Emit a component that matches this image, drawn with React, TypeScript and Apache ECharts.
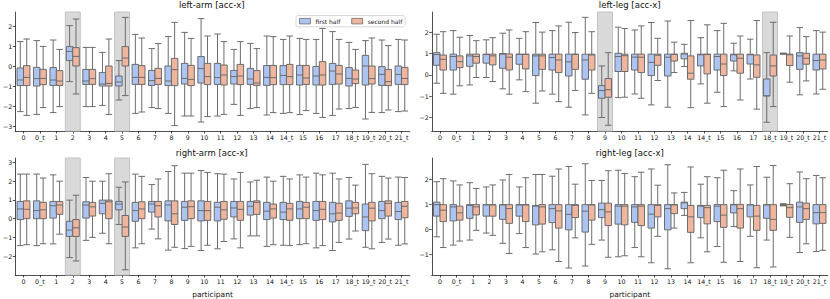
import React, { useEffect, useRef } from 'react';
import * as echarts from 'echarts';

const participants = ['0', '0_t', '1', '2', '3', '4', '5', '6', '7', '8', '9', '10', '11', '12', '13', '14', '14_t', '15', '16', '17', '18_t', '19_t', '20_t', '21_t'];

// [low whisker, Q1, median, Q3, high whisker]
const leftArmFirst = [
  [-2.28, -0.98, -0.70, -0.10, 1.22], [-2.42, -1.00, -0.63, -0.07, 1.27], [-2.33, -0.97, -0.70, -0.08, 1.30],
  [-0.78, 0.27, 0.73, 0.97, 2.02], [-2.03, -0.92, -0.75, -0.17, 0.93], [-1.97, -1.00, -0.90, -0.33, 0.68],
  [-1.70, -1.00, -0.80, -0.50, 0.27], [-2.37, -0.92, -0.57, 0.08, 1.58], [-2.08, -0.97, -0.73, -0.22, 0.87],
  [-2.37, -0.98, -0.75, 0.00, 1.47], [-2.50, -0.90, -0.62, 0.13, 1.68], [-2.80, -0.85, -0.13, 0.47, 2.37],
  [-2.50, -0.92, -0.58, 0.13, 1.60], [-1.92, -0.90, -0.53, -0.22, 0.83], [-2.13, -0.92, -0.65, -0.12, 1.13],
  [-2.45, -0.97, -0.57, 0.02, 1.50], [-2.37, -0.93, -0.47, 0.02, 1.33], [-2.43, -0.95, -0.45, 0.03, 1.38],
  [-2.37, -0.95, -0.50, -0.02, 1.33], [-2.47, -0.92, -0.25, 0.13, 1.72], [-2.13, -1.00, -0.62, -0.08, 1.18],
  [-2.65, -0.95, 0.00, 0.53, 1.27], [-2.33, -0.97, -0.42, -0.03, 1.30], [-2.28, -0.92, -0.42, 0.00, 1.33],
];
const leftArmSecond = [
  [-2.47, -0.98, -0.57, 0.02, 1.35], [-2.08, -0.93, -0.62, -0.17, 0.98], [-2.03, -0.97, -0.75, -0.23, 0.83],
  [-1.40, 0.00, 0.48, 0.92, 2.35], [-2.03, -0.92, -0.63, -0.17, 0.93], [-2.42, -1.00, -0.87, 0.00, 1.35],
  [-1.48, 0.00, 0.40, 0.97, 2.43], [-2.30, -0.92, -0.57, 0.02, 1.40], [-2.13, -0.92, -0.62, -0.12, 1.12],
  [-2.98, -0.98, -0.18, 0.38, 2.18], [-2.50, -0.98, -0.67, 0.03, 1.38], [-2.53, -0.93, -0.53, 0.13, 1.50],
  [-2.42, -0.95, -0.45, 0.05, 1.22], [-2.47, -0.93, -0.50, 0.08, 1.22], [-2.08, -0.97, -0.85, -0.23, 0.87],
  [-2.33, -0.93, -0.58, 0.03, 1.47], [-2.33, -0.93, -0.53, 0.08, 1.50], [-2.23, -0.92, -0.60, 0.03, 1.33],
  [-2.57, -0.95, -0.45, 0.22, 1.88], [-2.15, -0.90, -0.40, 0.03, 1.33], [-2.07, -0.88, -0.65, -0.20, 0.83],
  [-2.32, -0.90, -0.63, 0.00, 1.40], [-2.20, -0.98, -0.78, -0.17, 1.02], [-2.25, -0.93, -0.62, -0.07, 1.30],
];
const leftLegFirst = [
  [-0.39, 0.45, 0.95, 1.04, 1.90], [-0.90, 0.23, 0.86, 0.97, 2.07], [-0.47, 0.40, 0.89, 0.97, 1.84],
  [-0.12, 0.55, 0.95, 0.97, 1.64], [-0.65, 0.31, 0.97, 1.00, 1.95], [-0.23, 0.50, 0.96, 0.97, 1.71],
  [-1.32, -0.03, 0.89, 0.97, 2.45], [-0.90, 0.23, 0.81, 0.97, 2.07], [-1.51, -0.05, 0.61, 0.97, 2.46],
  [-1.87, -0.20, 0.70, 0.97, 2.69], [-1.99, -1.09, -0.73, -0.50, 0.42], [-1.06, 0.16, 0.86, 1.01, 2.23],
  [-0.89, 0.23, 0.83, 0.97, 2.10], [-1.40, -0.03, 0.59, 0.97, 2.45], [-1.51, -0.05, 0.83, 0.97, 2.52],
  [0.39, 0.75, 0.98, 1.01, 1.43], [-0.42, 0.42, 0.94, 0.97, 1.74], [-0.81, 0.23, 0.86, 0.97, 2.07],
  [0.19, 0.65, 0.94, 0.97, 1.48], [-0.19, 0.51, 0.94, 0.97, 1.67], [-2.21, -0.98, -0.98, -0.19, 1.04],
  [0.97, 0.98, 1.00, 1.00, 1.02], [-0.93, 0.26, 0.89, 1.04, 2.21], [-0.89, 0.23, 0.67, 0.97, 2.07],
];
const leftLegSecond = [
  [-0.86, 0.23, 0.73, 0.93, 2.02], [-0.51, 0.34, 0.62, 0.89, 1.76], [-0.12, 0.55, 0.86, 0.97, 1.60],
  [-0.31, 0.47, 0.89, 0.97, 1.74], [-0.90, 0.23, 0.83, 0.98, 2.10], [-0.78, 0.28, 0.96, 0.97, 2.02],
  [-0.75, 0.26, 0.89, 0.97, 2.00], [-1.25, 0.11, 0.70, 0.97, 2.29], [-0.73, 0.26, 0.96, 0.97, 1.98],
  [-0.86, 0.23, 0.93, 0.97, 2.02], [-2.35, -1.04, -0.69, -0.17, 1.04], [-1.04, 0.16, 0.90, 0.97, 2.17],
  [-1.09, 0.11, 0.83, 0.97, 2.29], [-0.26, 0.45, 0.92, 0.97, 1.71], [0.11, 0.65, 0.96, 0.97, 1.53],
  [-1.53, -0.20, 0.08, 0.89, 2.54], [-1.32, 0.05, 0.96, 0.97, 2.34], [-1.48, -0.03, 0.51, 0.97, 2.41],
  [-1.17, 0.08, 0.78, 0.97, 1.82], [-1.60, -0.11, 0.47, 0.93, 2.54], [-1.48, -0.05, 0.42, 0.93, 2.46],
  [-0.34, 0.44, 0.94, 0.97, 1.82], [-0.28, 0.50, 0.78, 1.01, 1.79], [-0.67, 0.28, 0.70, 0.97, 2.00],
];
const rightArmFirst = [
  [-1.44, -0.05, 0.52, 0.92, 2.38], [-1.44, 0.00, 0.43, 0.95, 2.38], [-1.35, 0.03, 0.69, 0.92, 2.34],
  [-2.08, -0.95, -0.61, -0.14, 0.99], [-1.16, 0.03, 0.73, 0.90, 2.20], [-0.78, 0.26, 0.82, 0.99, 2.00],
  [-0.31, 0.47, 0.78, 0.92, 1.68], [-1.56, -0.14, 0.43, 0.87, 2.38], [-0.56, 0.35, 0.78, 0.92, 1.82],
  [-1.68, -0.12, 0.73, 0.95, 2.52], [-1.60, -0.09, 0.61, 0.92, 2.43], [-1.70, -0.12, 0.43, 0.95, 2.57],
  [-1.61, -0.12, 0.61, 0.87, 2.40], [-1.08, 0.09, 0.57, 0.92, 2.12], [-0.92, 0.19, 0.66, 0.92, 1.96],
  [-1.48, -0.05, 0.40, 0.87, 2.22], [-1.42, -0.05, 0.35, 0.87, 2.26], [-1.39, 0.00, 0.52, 0.92, 2.34],
  [-1.56, -0.09, 0.43, 0.92, 2.43], [-1.70, -0.17, 0.26, 0.87, 2.43], [-1.09, 0.12, 0.56, 0.95, 2.20],
  [-1.53, -0.64, 0.09, 0.78, 2.90], [-1.27, 0.00, 0.43, 0.92, 2.26], [-1.42, -0.05, 0.38, 0.87, 2.22],
];
const rightArmSecond = [
  [-1.39, 0.00, 0.50, 0.95, 2.38], [-1.34, 0.00, 0.47, 0.87, 2.17], [-0.83, 0.23, 0.73, 0.92, 2.00],
  [-2.26, -0.95, -0.49, -0.05, 1.25], [-1.00, 0.14, 0.63, 0.87, 2.00], [-1.34, 0.00, 0.90, 0.99, 2.40],
  [-2.73, -0.95, -0.45, 0.17, 1.96], [-1.34, 0.00, 0.52, 0.90, 2.26], [-1.08, 0.09, 0.69, 0.92, 2.12],
  [-1.53, -0.31, 0.26, 0.95, 2.83], [-1.48, 0.00, 0.64, 0.95, 2.43], [-1.42, -0.09, 0.43, 0.92, 2.47],
  [-1.22, -0.03, 0.47, 0.92, 2.38], [-1.56, -0.09, 0.50, 0.92, 2.47], [-0.92, 0.23, 0.87, 0.95, 2.05],
  [-1.39, 0.03, 0.52, 0.78, 2.00], [-1.44, -0.09, 0.52, 0.82, 2.12], [-1.34, 0.00, 0.61, 0.87, 2.22],
  [-1.44, -0.05, 0.50, 0.92, 2.34], [-1.27, -0.09, 0.30, 0.82, 2.12], [-0.66, 0.26, 0.57, 0.87, 1.79],
  [-1.61, -0.12, 0.56, 0.87, 2.40], [-1.09, 0.14, 0.82, 0.95, 2.17], [-1.35, 0.05, 0.66, 0.92, 2.20],
];
const rightLegFirst = [
  [-0.31, 0.52, 0.98, 1.08, 1.90], [-0.64, 0.33, 0.89, 0.98, 1.93], [-0.44, 0.43, 0.95, 0.98, 1.86],
  [-0.16, 0.52, 0.97, 0.98, 1.69], [-0.57, 0.39, 0.97, 0.98, 1.97], [-0.18, 0.52, 0.97, 0.98, 1.69],
  [-1.00, 0.17, 0.92, 0.95, 2.19], [-0.83, 0.26, 0.82, 0.98, 2.12], [-1.56, -0.03, 0.59, 0.98, 2.51],
  [-1.48, -0.12, 0.72, 0.98, 2.62], [-0.44, 0.46, 0.78, 1.04, 1.95], [-1.11, 0.20, 0.92, 0.98, 2.36],
  [-0.74, 0.27, 0.89, 0.98, 2.10], [-1.35, 0.04, 0.60, 0.98, 2.41], [-1.59, -0.03, 0.82, 0.98, 2.58],
  [0.55, 0.82, 1.05, 1.08, 1.47], [-0.35, 0.46, 0.92, 0.95, 1.80], [-0.70, 0.30, 0.92, 0.98, 2.06],
  [0.10, 0.65, 0.97, 0.99, 1.54], [-0.29, 0.49, 0.97, 0.98, 1.77], [-0.44, 0.43, 0.97, 0.98, 2.08],
  [0.93, 0.95, 0.97, 0.98, 1.02], [-0.94, 0.27, 0.89, 1.08, 2.29], [-0.90, 0.21, 0.66, 0.98, 2.15],
];
const rightLegSecond = [
  [-0.74, 0.30, 0.76, 0.98, 2.02], [-0.48, 0.36, 0.65, 0.92, 1.77], [-0.05, 0.57, 0.89, 0.98, 1.63],
  [-0.25, 0.52, 0.97, 0.98, 1.77], [-0.98, 0.23, 0.82, 0.98, 2.19], [-0.74, 0.30, 0.97, 0.98, 2.06],
  [-0.91, 0.20, 0.89, 0.98, 2.19], [-1.30, 0.04, 0.73, 0.98, 2.41], [-0.35, 0.46, 0.95, 0.98, 1.80],
  [-0.61, 0.36, 0.97, 0.98, 1.95], [-1.13, 0.14, 0.69, 1.04, 2.34], [-1.07, 0.17, 0.92, 0.98, 2.23],
  [-1.11, 0.14, 0.92, 0.98, 2.28], [-0.29, 0.49, 0.95, 0.98, 1.76], [0.04, 0.62, 0.97, 0.98, 1.45],
  [-1.35, -0.13, 0.49, 0.95, 2.49], [-0.91, 0.21, 0.86, 0.95, 2.10], [-1.33, 0.07, 0.56, 0.98, 2.36],
  [-1.30, 0.04, 0.82, 0.99, 2.41], [-1.55, -0.05, 0.52, 0.95, 2.51], [-1.52, -0.05, 0.39, 0.98, 2.55],
  [-0.33, 0.47, 0.86, 0.99, 1.82], [-0.59, 0.39, 0.82, 1.04, 2.02], [-0.85, 0.23, 0.66, 0.98, 2.06],
];

const leftArmShaded = ['2', '5'];
const leftLegShaded = ['9', '18_t'];
const rightArmShaded = ['2', '5'];
const rightLegShaded: string[] = [];

const leftArmTicks = [-3, -2, -1, 0, 1, 2];
const leftLegTicks = [-2, -1, 0, 1, 2];
const rightArmTicks = [-2, -1, 0, 1, 2, 3];
const rightLegTicks = [-1, 0, 1, 2];

const seriesNames = ['first half', 'second half'];

const FONT = 'DejaVu Sans';
const BLUE = '#abc4f2';
const SALMON = '#efb59d';
const EDGE = '#6c6c6c';

const panels = [
  { title: 'left-arm [acc-x]', first: leftArmFirst, second: leftArmSecond, shaded: leftArmShaded, ticks: leftArmTicks, yMin: -3.25, yMax: 2.7, left: 13.75, top: 12, height: 119, titleTop: 0.8, xName: '' },
  { title: 'left-leg [acc-x]', first: leftLegFirst, second: leftLegSecond, shaded: leftLegShaded, ticks: leftLegTicks, yMin: -2.62, yMax: 2.94, left: 431.75, top: 12, height: 119, titleTop: 0.8, xName: '' },
  { title: 'right-arm [acc-x]', first: rightArmFirst, second: rightArmSecond, shaded: rightArmShaded, ticks: rightArmTicks, yMin: -3.01, yMax: 3.24, left: 13.75, top: 158, height: 120, titleTop: 148.3, xName: 'participant' },
  { title: 'right-leg [acc-x]', first: rightLegFirst, second: rightLegSecond, shaded: rightLegShaded, ticks: rightLegTicks, yMin: -1.84, yMax: 2.85, left: 431.75, top: 158, height: 120, titleTop: 148.3, xName: 'participant' },
];
const PLOT_W = 396;

const fmt = (v: number) => (v < 0 ? '\u2212' + Math.abs(v) : String(v));

function buildOption() {
  const grid: any[] = [];
  const xAxis: any[] = [];
  const yAxis: any[] = [];
  const series: any[] = [];
  const title: any[] = [];
  panels.forEach((p, i) => {
    grid.push({ left: p.left, top: p.top, width: PLOT_W, height: p.height });
    title.push({
      text: p.title,
      left: p.left + PLOT_W / 2,
      top: p.titleTop,
      padding: 0,
      textAlign: 'center',
      textStyle: { fontFamily: FONT, fontSize: 8.5, fontWeight: 'normal', color: '#111' },
    });
    xAxis.push({
      type: 'category',
      gridIndex: i,
      data: participants,
      boundaryGap: true,
      name: p.xName,
      nameLocation: 'middle',
      nameGap: 15,
      nameTextStyle: { fontFamily: FONT, fontSize: 7.5, color: '#111' },
      axisLine: { show: true, onZero: false, lineStyle: { color: '#222', width: 0.8 } },
      axisTick: { show: true, alignWithLabel: true, length: 2.5, lineStyle: { color: '#222', width: 0.8 } },
      axisLabel: { interval: 0, fontFamily: FONT, fontSize: 6.3, color: '#111', margin: 3.5 },
      splitLine: { show: false },
    });
    yAxis.push({
      type: 'value',
      gridIndex: i,
      min: p.yMin,
      max: p.yMax,
      axisLine: { show: true, onZero: false, lineStyle: { color: '#222', width: 0.8 } },
      axisTick: { show: true, length: 2.5, customValues: p.ticks, lineStyle: { color: '#222', width: 0.8 } },
      axisLabel: { customValues: p.ticks, formatter: (v: number) => fmt(v), fontFamily: FONT, fontSize: 6.3, color: '#111', margin: 3 },
      splitLine: { show: false },
    });
    const yMin = p.yMin;
    const yMax = p.yMax;
    series.push({
      type: 'custom',
      xAxisIndex: i,
      yAxisIndex: i,
      silent: true,
      z: 1,
      data: p.shaded.map((c) => [participants.indexOf(c), 0]),
      encode: { x: 0, y: 1 },
      renderItem: (params: any, api: any) => {
        const idx = api.value(0);
        const t = api.coord([idx, yMax]);
        const b = api.coord([idx, yMin]);
        const w = api.size([1, 0])[0] - 1.5;
        return {
          type: 'rect',
          shape: { x: t[0] - w / 2, y: t[1], width: w, height: b[1] - t[1] },
          style: { fill: '#d9d9d9', stroke: '#c3c3c3', lineWidth: 1 },
        };
      },
    });
    [p.first, p.second].forEach((d, k) => {
      series.push({
        type: 'boxplot',
        name: seriesNames[k],
        xAxisIndex: i,
        yAxisIndex: i,
        z: 3,
        boxWidth: [6.5, 6.5],
        data: d,
        itemStyle: { color: k === 0 ? BLUE : SALMON, borderColor: EDGE, borderWidth: 1 },
        emphasis: { disabled: true },
        silent: true,
      });
    });
  });
  return {
    animation: false,
    backgroundColor: '#ffffff',
    textStyle: { fontFamily: FONT },
    title,
    grid,
    xAxis,
    yAxis,
    series,
    legend: {
      data: [
        { name: seriesNames[0], itemStyle: { color: BLUE, borderColor: EDGE, borderWidth: 0.8 } },
        { name: seriesNames[1], itemStyle: { color: SALMON, borderColor: EDGE, borderWidth: 0.8 } },
      ],
      left: 296,
      top: 15.5,
      orient: 'horizontal',
      icon: 'rect',
      itemWidth: 11,
      itemHeight: 5.5,
      itemGap: 11,
      padding: [2.5, 3, 2.5, 3],
      backgroundColor: '#ffffff',
      borderColor: '#d0d0d0',
      borderWidth: 0.8,
      borderRadius: 2,
      selectedMode: false,
      textStyle: { fontFamily: FONT, fontSize: 6, color: '#111' },
    },
  };
}

export default function App() {
  const ref = useRef<HTMLDivElement>(null);
  useEffect(() => {
    if (!ref.current) return;
    const chart = echarts.init(ref.current, undefined, { renderer: 'svg' });
    chart.setOption(buildOption() as any);
    return () => chart.dispose();
  }, []);
  return <div ref={ref} style={{ position: 'fixed', left: 0, top: 0, width: 830, height: 299 }} />;
}
